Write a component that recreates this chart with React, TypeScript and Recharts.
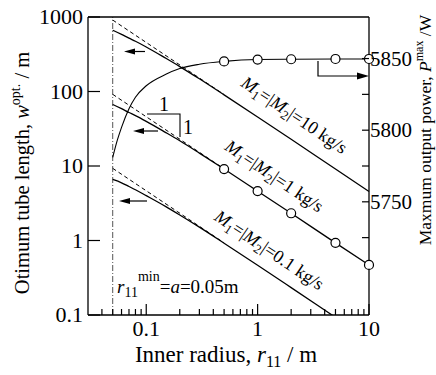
import { ComposedChart, Line, XAxis, YAxis, ReferenceLine, Customized } from "recharts";

const FONT = "'Liberation Serif', 'Times New Roman', Times, 'DejaVu Serif', serif";

// axis ticks
const xMajor = [0.1, 1, 10];
const xMinor = [0.04, 0.05, 0.06, 0.07, 0.08, 0.09, 0.2, 0.3, 0.4, 0.5, 0.6, 0.7, 0.8, 0.9, 2, 3, 4, 5, 6, 7, 8, 9];
const wTicks = [0.1, 1, 10, 100, 1000];
const pMajor = [5750, 5800, 5850];
const pMinor = [5725, 5775, 5825];

// optimum tube length (solid curves)
const rSolid = [0.05, 0.06, 0.07, 0.08, 0.1, 0.15, 0.2, 0.3, 0.5, 1, 2, 5, 10];
const w10 = [664, 584, 520, 472, 396, 279, 216, 148, 90, 45.5, 22.8, 9.1, 4.55];
const w1 = [67, 58.8, 52.3, 47.5, 39.8, 28.1, 21.8, 14.9, 9.1, 4.6, 2.32, 0.93, 0.47];
const w01 = [6.6, 5.95, 5.3, 4.8, 4.0, 2.85, 2.2, 1.51, 0.92, 0.465, 0.233, 0.093, 0.0465];

// slope -1 asymptotes (dashed)
const rDash = [0.05, 0.5];
const w10Dash = [910, 91];
const w1Dash = [91.6, 9.16];
const w01Dash = [9.3, 0.93];

// maximum output power (right axis)
const rPower = [0.05, 0.055, 0.06, 0.07, 0.08, 0.1, 0.15, 0.2, 0.3, 0.5, 1, 2, 5, 10];
const pMax = [5781, 5793, 5802, 5815, 5823, 5831, 5839, 5843, 5846, 5848, 5849.3, 5849.5, 5849.7, 5849.7];

const rMarked = [0.5, 1, 2, 5, 10];
const rMin = 0.05;

const rows = (xs: number[], ys: number[]) => xs.map((r, i) => ({ r, v: ys[i] }));

const txt = { fontFamily: FONT, fill: "#000" };

const markerDot = (props: any) => {
  const { cx, cy, payload, index } = props;
  if (!rMarked.includes(payload.r)) return <g key={index} />;
  return <circle key={index} cx={cx} cy={cy} r={4.5} fill="#fff" stroke="#000" strokeWidth={1.2} />;
};

const BottomTick = (props: any) => {
  const { x, y, payload } = props;
  const major = xMajor.includes(payload.value);
  return (
    <g>
      <line x1={x} x2={x} y1={y} y2={y - (major ? 11 : 6)} stroke="#000" strokeWidth={1.2} />
      {major && (
        <text x={x} y={y + 21} textAnchor="middle" fontSize={22} style={txt}>
          {payload.value}
        </text>
      )}
    </g>
  );
};

const TopTick = (props: any) => {
  const { x, y, payload } = props;
  const major = xMajor.includes(payload.value);
  return <line x1={x} x2={x} y1={y} y2={y + (major ? 11 : 6)} stroke="#000" strokeWidth={1.2} />;
};

const LeftTick = (props: any) => {
  const { x, y, payload } = props;
  return (
    <g>
      <line x1={x} x2={x + 12} y1={y} y2={y} stroke="#000" strokeWidth={1.2} />
      <text x={x - 5} y={y + 7} textAnchor="end" fontSize={22} style={txt}>
        {payload.value}
      </text>
    </g>
  );
};

const RightTick = (props: any) => {
  const { x, y, payload } = props;
  const major = pMajor.includes(payload.value);
  return (
    <g>
      <line x1={x} x2={x - 7} y1={y} y2={y} stroke="#000" strokeWidth={1.2} />
      {major && (
        <text x={x + 1} y={y + 7} textAnchor="start" fontSize={21} style={txt}>
          {payload.value}
        </text>
      )}
    </g>
  );
};

const MLabel = ({ cx, cy, val }: { cx: number; cy: number; val: string }) => (
  <text transform={`translate(${cx},${cy}) rotate(34)`} textAnchor="middle" fontSize={18} style={txt}>
    <tspan fontStyle="italic">M</tspan>
    <tspan fontSize={13} dy={4}>1</tspan>
    <tspan dy={-4}>=|</tspan>
    <tspan fontStyle="italic">M</tspan>
    <tspan fontSize={13} dy={4}>2</tspan>
    <tspan dy={-4}>{`|=${val} kg/s`}</tspan>
  </text>
);

const LeftArrow = ({ x1, x2, y }: { x1: number; x2: number; y: number }) => (
  <g>
    <line x1={x1} x2={x2 + 8} y1={y} y2={y} stroke="#000" strokeWidth={1.2} />
    <polygon points={`${x2},${y} ${x2 + 11},${y - 3} ${x2 + 11},${y + 3}`} fill="#000" />
  </g>
);

const Annotations = () => (
  <g style={txt}>
    <LeftArrow x1={145} x2={124} y={51.5} />
    <LeftArrow x1={158} x2={133} y={131} />
    <LeftArrow x1={147} x2={119} y={201} />
    <polyline points="318,61 318,76 360,76" fill="none" stroke="#000" strokeWidth={1.2} />
    <polygon points="369,76 357,72.5 357,79.5" fill="#000" />
    <polyline points="147,114 180,114 180,137" fill="none" stroke="#000" strokeWidth={1.1} />
    <text x={164} y={111} textAnchor="middle" fontSize={20} style={txt}>1</text>
    <text x={183} y={134} textAnchor="start" fontSize={20} style={txt}>1</text>
    <MLabel cx={291} cy={120} val="10" />
    <MLabel cx={271} cy={181} val="1" />
    <MLabel cx={266} cy={255} val="0.1" />
    <text x={117} y={293} fontSize={19} style={txt}>
      <tspan fontStyle="italic">r</tspan>
      <tspan fontSize={14} dy={4}>11</tspan>
      <tspan fontSize={14} dy={-16}>min</tspan>
      <tspan dy={12}>=</tspan>
      <tspan fontStyle="italic">a</tspan>
      <tspan>=0.05m</tspan>
    </text>
    <text x={226} y={362} textAnchor="middle" fontSize={23} style={txt}>
      Inner radius, <tspan fontStyle="italic">r</tspan>
      <tspan fontSize={16} dy={5}>11</tspan>
      <tspan dy={-5}> / m</tspan>
    </text>
    <text transform="translate(29,173) rotate(-90)" textAnchor="middle" fontSize={20.5} style={txt}>
      Otimum tube length, <tspan fontStyle="italic">w</tspan>
      <tspan fontSize={14} dy={-9}>opt.</tspan>
      <tspan dy={9}> / m</tspan>
    </text>
    <text transform="translate(431,130) rotate(-90)" textAnchor="middle" fontSize={17.5} style={txt}>
      Maxmum output power, <tspan fontStyle="italic">P</tspan>
      <tspan fontSize={12} dy={-8}>max</tspan>
      <tspan dy={8}> /W</tspan>
    </text>
  </g>
);

export default function App() {
  const xTicks = [...xMinor, ...xMajor].sort((a, b) => a - b);
  return (
    <div style={{ position: "absolute", left: 0, top: 0, background: "#fff", fontFamily: FONT }}>
      <ComposedChart width={436} height={375} margin={{ top: 12, right: 0, bottom: 0, left: 0 }}>
        <XAxis
          xAxisId="b"
          dataKey="r"
          type="number"
          scale="log"
          domain={[0.03, 10]}
          ticks={xTicks}
          interval={0}
          tickSize={0}
          tickMargin={0}
          tickLine={false}
          tick={<BottomTick />}
          height={60}
          axisLine={{ stroke: "#000", strokeWidth: 1.3 }}
        />
        <XAxis
          xAxisId="t"
          orientation="top"
          dataKey="r"
          type="number"
          scale="log"
          domain={[0.03, 10]}
          ticks={xTicks}
          interval={0}
          tickSize={0}
          tickMargin={0}
          tickLine={false}
          tick={<TopTick />}
          height={5}
          axisLine={{ stroke: "#000", strokeWidth: 1.3 }}
        />
        <YAxis
          yAxisId="w"
          type="number"
          scale="log"
          domain={[0.1, 1000]}
          allowDataOverflow
          ticks={wTicks}
          interval={0}
          tickSize={0}
          tickMargin={0}
          tickLine={false}
          tick={<LeftTick />}
          width={88}
          axisLine={{ stroke: "#000", strokeWidth: 1.3 }}
        />
        <YAxis yAxisId="w2" type="number" scale="log" domain={[0.1, 1000]} hide />
        <YAxis
          yAxisId="p"
          orientation="right"
          type="number"
          domain={[5671, 5879]}
          ticks={[...pMinor, ...pMajor].sort((a, b) => a - b)}
          interval={0}
          tickSize={0}
          tickMargin={0}
          tickLine={false}
          tick={<RightTick />}
          width={67}
          axisLine={{ stroke: "#000", strokeWidth: 1.3 }}
        />
        <ReferenceLine xAxisId="b" yAxisId="w" x={rMin} stroke="#555" strokeWidth={1} strokeDasharray="6 2 1 2" />
        <Line xAxisId="b" yAxisId="w2" data={rows(rDash, w10Dash)} dataKey="v" stroke="#000" strokeWidth={1} strokeDasharray="4 3" dot={false} isAnimationActive={false} />
        <Line xAxisId="b" yAxisId="w2" data={rows(rDash, w1Dash)} dataKey="v" stroke="#000" strokeWidth={1} strokeDasharray="4 3" dot={false} isAnimationActive={false} />
        <Line xAxisId="b" yAxisId="w2" data={rows(rDash, w01Dash)} dataKey="v" stroke="#000" strokeWidth={1} strokeDasharray="4 3" dot={false} isAnimationActive={false} />
        <Line xAxisId="b" yAxisId="w2" data={rows(rSolid, w10)} dataKey="v" type="monotone" stroke="#000" strokeWidth={1.3} dot={false} isAnimationActive={false} />
        <Line xAxisId="b" yAxisId="w2" data={rows(rSolid, w1)} dataKey="v" type="monotone" stroke="#000" strokeWidth={1.3} dot={markerDot} isAnimationActive={false} />
        <Line xAxisId="b" yAxisId="w" data={rows(rSolid, w01)} dataKey="v" type="monotone" stroke="#000" strokeWidth={1.3} dot={false} isAnimationActive={false} />
        <Line xAxisId="b" yAxisId="p" data={rows(rPower, pMax)} dataKey="v" type="monotone" stroke="#000" strokeWidth={1.1} dot={markerDot} isAnimationActive={false} />
        <Customized component={Annotations} />
      </ComposedChart>
    </div>
  );
}
